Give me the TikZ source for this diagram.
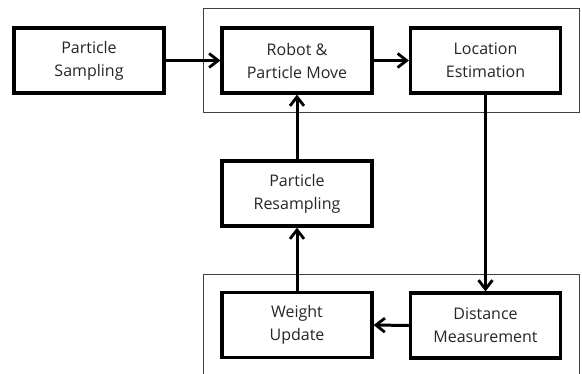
\documentclass[tikz,border=0pt]{standalone}
\usepackage{fontspec}
\setmainfont{Open Sans}
\usetikzlibrary{arrows.meta}
\begin{document}
\begin{tikzpicture}[x=1pt,y=-1pt,
  blk/.style={draw=black,line width=3.2pt,fill=white,minimum width=150pt,minimum height=65pt,inner sep=0pt,align=center,font=\fontsize{16}{23}\selectfont,text=black!85},
  frm/.style={draw=black!75,line width=1pt},
  arr/.style={line width=3pt,-{Straight Barb[length=9pt,width=14pt,line width=2.8pt]}}]
\useasboundingbox (0,0) rectangle (582,373);
\begin{scope}
\clip (0,0) rectangle (582,373);
\draw[frm] (203,8.5) rectangle (579,112);
\draw[frm] (203,274) rectangle (579,390);
\end{scope}
\node[blk] (samp) at (89,60.5) {Particle\\Sampling};
\node[blk] (robot) at (297,60.5) {Robot \&\\Particle Move};
\node[blk] (loc) at (485.5,60.5) {Location\\Estimation};
\node[blk] (resamp) at (297,193.5) {Particle\\Resampling};
\node[blk] (weight) at (297,325) {Weight\\Update};
\node[blk] (dist) at (485.5,325.5) {Distance\\Measurement};
\draw[arr] (samp.east) -- (robot.west);
\draw[arr] (robot.east) -- (loc.west);
\draw[arr] (loc.south) -- (dist.north);
\draw[arr] (dist.west) -- (weight.east);
\draw[arr] (weight.north) -- (resamp.south);
\draw[arr] (resamp.north) -- (robot.south);
\end{tikzpicture}
\end{document}
